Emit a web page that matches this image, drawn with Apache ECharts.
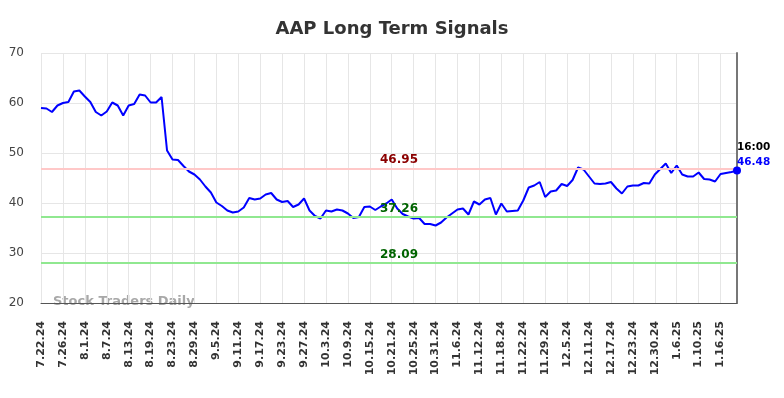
<!DOCTYPE html>
<html>
<head>
<meta charset="UTF-8">
<title>AAP Long Term Signals</title>
<style>
    * { margin: 0; padding: 0; }
    html, body { width: 100%; height: 100%; background: #fff; }
    #chart { width: 784px; height: 398px; }
</style>
</head>
<body>
<div id="chart"></div>
<script src="https://cdn.jsdelivr.net/npm/echarts@6/dist/echarts.min.js"></script>
<script>
// trading days, 7.22.24 - 1.22.25
var dates = [
    '7.22.24','7.23.24','7.24.24','7.25.24','7.26.24','7.29.24','7.30.24','7.31.24',
    '8.1.24','8.2.24','8.5.24','8.6.24','8.7.24','8.8.24','8.9.24','8.12.24','8.13.24','8.14.24','8.15.24','8.16.24',
    '8.19.24','8.20.24','8.21.24','8.22.24','8.23.24','8.26.24','8.27.24','8.28.24','8.29.24','8.30.24',
    '9.3.24','9.4.24','9.5.24','9.6.24','9.9.24','9.10.24','9.11.24','9.12.24','9.13.24','9.16.24',
    '9.17.24','9.18.24','9.19.24','9.20.24','9.23.24','9.24.24','9.25.24','9.26.24','9.27.24','9.30.24',
    '10.1.24','10.2.24','10.3.24','10.4.24','10.7.24','10.8.24','10.9.24','10.10.24','10.11.24','10.14.24',
    '10.15.24','10.16.24','10.17.24','10.18.24','10.21.24','10.22.24','10.23.24','10.24.24','10.25.24','10.28.24',
    '10.29.24','10.30.24','10.31.24',
    '11.1.24','11.4.24','11.5.24','11.6.24','11.7.24','11.8.24','11.11.24','11.12.24','11.13.24','11.14.24',
    '11.15.24','11.18.24','11.19.24','11.20.24','11.21.24','11.22.24','11.25.24','11.26.24','11.27.24','11.29.24',
    '12.2.24','12.3.24','12.4.24','12.5.24','12.6.24','12.9.24','12.10.24','12.11.24','12.12.24','12.13.24',
    '12.16.24','12.17.24','12.18.24','12.19.24','12.20.24','12.23.24','12.24.24','12.26.24','12.27.24','12.30.24',
    '12.31.24',
    '1.2.25','1.3.25','1.6.25','1.7.25','1.8.25','1.9.25','1.10.25','1.13.25','1.14.25','1.15.25',
    '1.16.25','1.17.25','1.21.25','1.22.25'
];
var prices = [
    59.0, 58.9, 58.2, 59.5, 60.0, 60.2, 62.3, 62.5, 61.3, 60.2,
    58.2, 57.5, 58.3, 60.1, 59.5, 57.5, 59.5, 59.8, 61.7, 61.5,
    60.1, 60.1, 61.2, 50.5, 48.7, 48.6, 47.4, 46.3, 45.7, 44.7,
    43.3, 42.1, 40.1, 39.4, 38.5, 38.1, 38.3, 39.1, 41.0, 40.7,
    40.9, 41.7, 42.0, 40.7, 40.2, 40.4, 39.2, 39.7, 40.9, 38.5,
    37.4, 36.9, 38.5, 38.3, 38.7, 38.5, 37.9, 37.0, 37.2, 39.2,
    39.3, 38.6, 39.3, 39.9, 40.7, 38.9, 37.8, 37.3, 36.9, 37.0,
    35.8, 35.8, 35.5, 36.1, 37.1, 37.9, 38.7, 38.9, 37.7, 40.3,
    39.7, 40.7, 41.0, 37.7, 39.9, 38.3, 38.4, 38.5, 40.5, 43.1,
    43.5, 44.2, 41.2, 42.3, 42.5, 43.8, 43.4, 44.6, 47.1, 46.7,
    45.3, 43.9, 43.8, 43.9, 44.2, 42.9, 41.9, 43.3, 43.5, 43.5,
    44.0, 43.9, 45.7, 46.8, 47.9, 46.0, 47.5, 45.7, 45.3, 45.3,
    46.1, 44.8, 44.7, 44.3, 45.8, 46.0, 46.2, 46.48
];
var resistance = 46.95;
var supports = [37.26, 28.09];
var lastTime = '16:00';

var myChart = echarts.init(document.getElementById('chart'));
var last = prices.length - 1;

var option = {
    animation: false,
    textStyle: { fontFamily: 'DejaVu Sans' },
    title: {
        text: 'AAP Long Term Signals',
        left: 'center',
        top: 15,
        textStyle: { fontFamily: 'DejaVu Sans', fontSize: 18, fontWeight: 'bold', color: '#333' }
    },
    grid: { left: 41, right: 47, top: 53, bottom: 95 },
    xAxis: {
        type: 'category',
        boundaryGap: false,
        data: dates,
        axisLine: { lineStyle: { color: '#555', width: 1 } },
        axisTick: { show: false },
        axisLabel: {
            interval: 3,
            rotate: 90,
            fontFamily: 'DejaVu Sans',
            fontSize: 11,
            fontWeight: 'bold',
            color: '#333',
            margin: 18
        },
        splitLine: { show: true, interval: 3, lineStyle: { color: '#e6e6e6' } }
    },
    yAxis: [
        {
            type: 'value',
            min: 20,
            max: 70,
            interval: 10,
            axisLine: { show: false },
            axisTick: { show: false },
            axisLabel: { fontFamily: 'DejaVu Sans', fontSize: 12, color: '#444', margin: 17 },
            splitLine: { lineStyle: { color: '#e6e6e6' } }
        },
        {
            type: 'value',
            position: 'right',
            min: 20,
            max: 70,
            interval: 10,
            axisLine: { show: true, lineStyle: { color: '#777', width: 2 } },
            axisTick: { show: false },
            axisLabel: { show: false },
            splitLine: { show: false }
        }
    ],
    graphic: [{
        type: 'text',
        left: 53,
        top: 295,
        style: {
            text: 'Stock Traders Daily',
            font: 'bold 13px "DejaVu Sans"',
            fill: '#a8a8a8'
        }
    }],
    series: [{
        type: 'line',
        data: prices,
        showSymbol: false,
        lineStyle: { color: '#0000ff', width: 2 },
        itemStyle: { color: '#0000ff' },
        markLine: {
            silent: true,
            symbol: 'none',
            label: {
                position: 'middle',
                distance: 2,
                offset: [10, 0],
                fontFamily: 'DejaVu Sans',
                fontSize: 12,
                fontWeight: 'bold',
                formatter: function (p) { return p.value.toFixed(2); }
            },
            data: [
                { yAxis: resistance, lineStyle: { color: '#ffc8c8', width: 2, type: 'solid' }, label: { color: '#8b0000' } },
                { yAxis: supports[0], lineStyle: { color: '#90e890', width: 2, type: 'solid' }, label: { color: '#006400' } },
                { yAxis: supports[1], lineStyle: { color: '#90e890', width: 2, type: 'solid' }, label: { color: '#006400' } }
            ]
        },
        markPoint: {
            symbol: 'circle',
            symbolSize: 8,
            itemStyle: { color: '#0000ff' },
            label: {
                show: true,
                position: 'top',
                align: 'left',
                distance: 2,
                offset: [0, 5],
                lineHeight: 15,
                formatter: '{t|' + lastTime + '}\n{v|' + prices[last].toFixed(2) + '}',
                rich: {
                    t: { fontFamily: 'DejaVu Sans', fontSize: 10.5, fontWeight: 'bold', color: '#000' },
                    v: { fontFamily: 'DejaVu Sans', fontSize: 10.5, fontWeight: 'bold', color: '#0000ff' }
                }
            },
            data: [{ coord: [dates[last], prices[last]] }]
        }
    }]
};
myChart.setOption(option);
</script>
</body>
</html>
